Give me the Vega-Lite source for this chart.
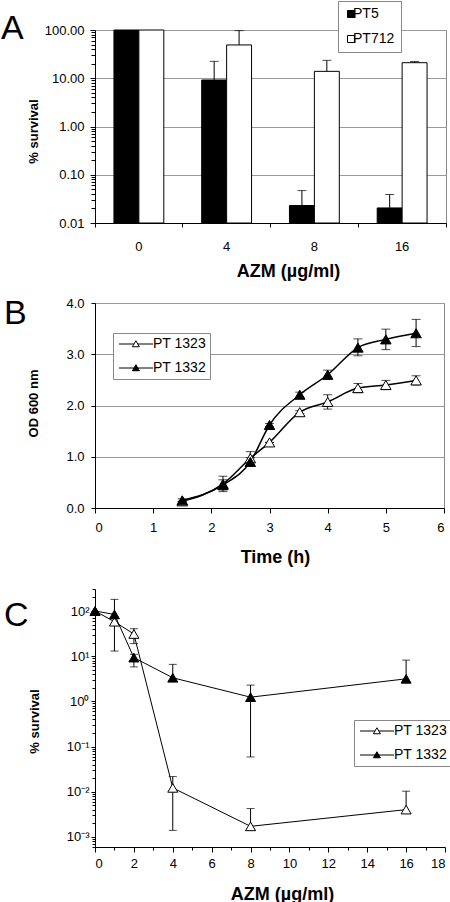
{
  "$schema": "https://vega.github.io/schema/vega-lite/v6.json",
  "background": "white",
  "padding": {"left": 0, "top": 0, "right": 2, "bottom": 0},
  "config": {
    "font": "Liberation Sans",
    "view": {"stroke": null},
    "axis": {"labelFont": "Liberation Sans", "titleFont": "Liberation Sans", "labelFontSize": 13, "labelColor": "black", "titleColor": "black", "domainColor": "black", "tickColor": "black", "gridColor": "#9a9a9a", "grid": false, "titleFontWeight": "bold"},
    "legend": {"labelFont": "Liberation Sans", "labelColor": "black"},
    "title": {"font": "Liberation Sans", "color": "black"}
  },
  "resolve": {"scale": {"fill": "independent"}, "legend": {"fill": "independent"}},
  "spacing": 21,
  "vconcat": [
    {
      "spacing": 15,
      "resolve": {"scale": {"fill": "independent"}, "legend": {"fill": "independent"}},
      "vconcat": [
        {
          "width": 351,
          "height": 193,
          "view": {"stroke": "#888888"},
          "title": {"text": "A", "anchor": "start", "frame": "group", "fontSize": 34, "fontWeight": "normal", "baseline": "alphabetic", "offset": 0, "dx": -94, "dy": 72},
          "data": {"values": [
            {"azm": "0", "strain": "PT5", "survival": 100, "upper": 100},
            {"azm": "0", "strain": "PT712", "survival": 100, "upper": 100},
            {"azm": "4", "strain": "PT5", "survival": 9.2, "upper": 22.4},
            {"azm": "4", "strain": "PT712", "survival": 49, "upper": 97},
            {"azm": "8", "strain": "PT5", "survival": 0.023, "upper": 0.047},
            {"azm": "8", "strain": "PT712", "survival": 13.9, "upper": 23.5},
            {"azm": "16", "strain": "PT5", "survival": 0.0205, "upper": 0.039},
            {"azm": "16", "strain": "PT712", "survival": 21.0, "upper": 22.2}
          ]},
          "resolve": {"axis": {"y": "independent"}},
          "layer": [
            {
              "mark": {"type": "bar", "stroke": "black", "strokeWidth": 1},
              "encoding": {
                "x": {"field": "azm", "type": "ordinal", "sort": ["0", "4", "8", "16"], "scale": {"paddingInner": 0, "paddingOuter": 0},
                  "axis": {"title": "AZM (µg/ml)", "labelAngle": 0, "bandPosition": 1, "tickExtra": true, "tickSize": 4, "labelPadding": 13, "labelBaseline": "top", "titleFontSize": 18, "titleX": 193, "titleY": 53, "titleBaseline": "alphabetic", "titleAlign": "center"}},
                "xOffset": {"field": "strain", "type": "nominal", "sort": ["PT5", "PT712"], "scale": {"paddingInner": 0, "paddingOuter": 0.76}},
                "y": {"field": "survival", "type": "quantitative", "scale": {"type": "log", "domain": [0.01, 100], "nice": false},
                  "axis": {"title": "% survival", "orient": "left", "values": [0.01, 0.1, 1, 10, 100], "format": ".2f", "grid": true, "tickSize": 5, "labelPadding": 6, "titleFontSize": 13, "titleX": -62, "titleY": 101, "titleBaseline": "middle", "titleAlign": "center"}},
                "y2": {"datum": 0.01},
                "fill": {"field": "strain", "type": "nominal", "scale": {"domain": ["PT5", "PT712"], "range": ["black", "white"]},
                  "legend": {"orient": "none", "legendX": 243, "legendY": -29, "title": null, "symbolType": "square", "symbolSize": 49, "symbolStrokeColor": "black", "symbolStrokeWidth": 1, "labelFontSize": 14, "rowPadding": 11, "padding": 6, "strokeColor": "#888888", "fillColor": "white", "labelOffset": -5}}
              }
            },
            {
              "transform": [{"filter": "datum.upper > datum.survival"}],
              "mark": {"type": "rule", "color": "black", "strokeWidth": 1},
              "encoding": {
                "x": {"field": "azm", "type": "ordinal", "sort": ["0", "4", "8", "16"]},
                "xOffset": {"field": "strain", "type": "nominal", "sort": ["PT5", "PT712"]},
                "y": {"field": "survival", "type": "quantitative", "axis": null},
                "y2": {"field": "upper"}
              }
            },
            {
              "transform": [{"filter": "datum.upper > datum.survival"}],
              "mark": {"type": "tick", "color": "black", "thickness": 1, "size": 9, "orient": "horizontal"},
              "encoding": {
                "x": {"field": "azm", "type": "ordinal", "sort": ["0", "4", "8", "16"]},
                "xOffset": {"field": "strain", "type": "nominal", "sort": ["PT5", "PT712"]},
                "y": {"field": "upper", "type": "quantitative",
                  "axis": {"title": null, "orient": "left", "labels": false, "domain": false, "grid": false, "tickSize": 4, "values": [0.02, 0.03, 0.04, 0.05, 0.06, 0.07, 0.08, 0.09, 0.2, 0.3, 0.4, 0.5, 0.6, 0.7, 0.8, 0.9, 2, 3, 4, 5, 6, 7, 8, 9, 20, 30, 40, 50, 60, 70, 80, 90]}}
              }
            }
          ]
        },
        {
          "width": 349,
          "height": 205,
          "view": {"stroke": "#888888"},
          "title": {"text": "B", "anchor": "start", "frame": "group", "fontSize": 34, "fontWeight": "normal", "baseline": "alphabetic", "offset": 0, "dx": -91, "dy": 61},
          "data": {"values": [
            {"t": 1.5, "strain": "PT 1323", "od": 0.13, "lo": 0.13, "hi": 0.13},
            {"t": 2.2, "strain": "PT 1323", "od": 0.47, "lo": 0.32, "hi": 0.62},
            {"t": 2.67, "strain": "PT 1323", "od": 0.97, "lo": 0.84, "hi": 1.1},
            {"t": 3.0, "strain": "PT 1323", "od": 1.28, "lo": 1.28, "hi": 1.28},
            {"t": 3.52, "strain": "PT 1323", "od": 1.87, "lo": 1.84, "hi": 1.9},
            {"t": 4.0, "strain": "PT 1323", "od": 2.07, "lo": 1.93, "hi": 2.21},
            {"t": 4.52, "strain": "PT 1323", "od": 2.34, "lo": 2.25, "hi": 2.43},
            {"t": 5.0, "strain": "PT 1323", "od": 2.4, "lo": 2.31, "hi": 2.49},
            {"t": 5.52, "strain": "PT 1323", "od": 2.49, "lo": 2.4, "hi": 2.58},
            {"t": 1.5, "strain": "PT 1332", "od": 0.15, "lo": 0.12, "hi": 0.18},
            {"t": 2.2, "strain": "PT 1332", "od": 0.45, "lo": 0.35, "hi": 0.55},
            {"t": 2.67, "strain": "PT 1332", "od": 0.9, "lo": 0.82, "hi": 0.98},
            {"t": 3.0, "strain": "PT 1332", "od": 1.62, "lo": 1.59, "hi": 1.65},
            {"t": 3.52, "strain": "PT 1332", "od": 2.21, "lo": 2.16, "hi": 2.26},
            {"t": 4.0, "strain": "PT 1332", "od": 2.6, "lo": 2.51, "hi": 2.69},
            {"t": 4.52, "strain": "PT 1332", "od": 3.13, "lo": 2.97, "hi": 3.3},
            {"t": 5.0, "strain": "PT 1332", "od": 3.29, "lo": 3.09, "hi": 3.49},
            {"t": 5.52, "strain": "PT 1332", "od": 3.41, "lo": 3.15, "hi": 3.68}
          ]},
          "layer": [
            {
              "mark": {"type": "line", "interpolate": "monotone", "color": "black", "strokeWidth": 1.5},
              "encoding": {
                "x": {"field": "t", "type": "quantitative", "scale": {"domain": [0, 6], "nice": false},
                  "axis": {"title": "Time (h)", "values": [0, 1, 2, 3, 4, 5, 6], "format": "d", "tickSize": 5, "labelPadding": 8, "labelBaseline": "top", "titleFontSize": 18, "titleX": 180, "titleY": 54, "titleBaseline": "alphabetic", "titleAlign": "center"}},
                "y": {"field": "od", "type": "quantitative", "scale": {"domain": [0, 4], "nice": false},
                  "axis": {"title": "OD 600 nm", "values": [0, 0.5, 1, 1.5, 2, 2.5, 3, 3.5, 4], "format": ".1f", "grid": true, "tickSize": 4, "labelPadding": 7, "titleFontSize": 13, "titleX": -62, "titleY": 100, "titleBaseline": "middle", "titleAlign": "center"}},
                "detail": {"field": "strain"}
              }
            },
            {
              "mark": {"type": "rule", "color": "black", "strokeWidth": 1},
              "encoding": {
                "x": {"field": "t", "type": "quantitative"},
                "y": {"field": "lo", "type": "quantitative"},
                "y2": {"field": "hi"}
              }
            },
            {
              "mark": {"type": "tick", "color": "black", "thickness": 1, "size": 9, "orient": "horizontal"},
              "encoding": {
                "x": {"field": "t", "type": "quantitative"},
                "y": {"field": "lo", "type": "quantitative"}
              }
            },
            {
              "mark": {"type": "tick", "color": "black", "thickness": 1, "size": 9, "orient": "horizontal"},
              "encoding": {
                "x": {"field": "t", "type": "quantitative"},
                "y": {"field": "hi", "type": "quantitative"}
              }
            },
            {
              "mark": {"type": "point", "shape": "triangle-up", "filled": true, "stroke": "black", "strokeWidth": 1, "size": 110, "opacity": 1},
              "encoding": {
                "x": {"field": "t", "type": "quantitative"},
                "y": {"field": "od", "type": "quantitative"},
                "fill": {"field": "strain", "type": "nominal", "scale": {"domain": ["PT 1323", "PT 1332"], "range": ["white", "black"]},
                  "legend": {"orient": "none", "legendX": 18, "legendY": 30, "title": null, "symbolType": "M-1,0H1.98M2.78,0H5.8M2.38,-0.65L3.08,0.55L1.68,0.55Z", "symbolSize": 100, "symbolStrokeColor": "black", "symbolStrokeWidth": 1, "labelFontSize": 14, "rowPadding": 10, "padding": 4, "strokeColor": "#888888", "fillColor": "white", "labelOffset": 22}}
              }
            }
          ]
        }
      ]
    },
    {
      "width": 350,
      "height": 258,
      "title": {"text": "C", "anchor": "start", "frame": "group", "fontSize": 34, "fontWeight": "normal", "baseline": "alphabetic", "offset": 0, "dx": -91, "dy": 71},
      "data": {"values": [
        {"azm": 0, "strain": "PT 1323", "survival": 100, "lo": 100, "hi": 100},
        {"azm": 1, "strain": "PT 1323", "survival": 58, "lo": 13, "hi": 58},
        {"azm": 2, "strain": "PT 1323", "survival": 31, "lo": 19, "hi": 40.6},
        {"azm": 4, "strain": "PT 1323", "survival": 0.0122, "lo": 0.0014, "hi": 0.0217},
        {"azm": 8, "strain": "PT 1323", "survival": 0.00172, "lo": 0.00172, "hi": 0.00425},
        {"azm": 16, "strain": "PT 1323", "survival": 0.00403, "lo": 0.00403, "hi": 0.0103},
        {"azm": 0, "strain": "PT 1332", "survival": 100, "lo": 100, "hi": 100},
        {"azm": 1, "strain": "PT 1332", "survival": 84, "lo": 84, "hi": 181},
        {"azm": 2, "strain": "PT 1332", "survival": 9.3, "lo": 5.8, "hi": 11},
        {"azm": 4, "strain": "PT 1332", "survival": 3.33, "lo": 3.33, "hi": 6.6},
        {"azm": 8, "strain": "PT 1332", "survival": 1.24, "lo": 0.059, "hi": 2.29},
        {"azm": 16, "strain": "PT 1332", "survival": 3.16, "lo": 3.16, "hi": 8.2}
      ]},
      "resolve": {"axis": {"x": "independent", "y": "independent"}},
      "layer": [
        {
          "mark": {"type": "line", "color": "black", "strokeWidth": 1},
          "encoding": {
            "x": {"field": "azm", "type": "quantitative", "scale": {"domain": [0, 18], "nice": false},
              "axis": {"title": "AZM (µg/ml)", "orient": "bottom", "values": [0, 2, 4, 6, 8, 10, 12, 14, 16, 18], "format": "d", "tickSize": 5, "labelPadding": 5, "labelBaseline": "top", "titleFontSize": 18, "titleX": 187, "titleY": 52, "titleBaseline": "alphabetic", "titleAlign": "center"}},
            "y": {"field": "survival", "type": "quantitative", "scale": {"type": "log", "domain": [0.0006, 307], "nice": false},
              "axis": {"title": "% survival", "orient": "left", "values": [0.001, 0.01, 0.1, 1, 10, 100], "labelExpr": "datum.value > 50 ? '10²' : datum.value > 5 ? '10¹' : datum.value > 0.5 ? '10⁰' : datum.value > 0.05 ? '10⁻¹' : datum.value > 0.005 ? '10⁻²' : '10⁻³'", "tickSize": 4, "labelPadding": 2, "titleFontSize": 13, "titleX": -61, "titleY": 132, "titleBaseline": "middle", "titleAlign": "center"}},
            "detail": {"field": "strain"}
          }
        },
        {
          "transform": [{"filter": "datum.hi > datum.lo"}],
          "mark": {"type": "rule", "color": "black", "strokeWidth": 1},
          "encoding": {
            "x": {"field": "azm", "type": "quantitative", "axis": null},
            "y": {"field": "lo", "type": "quantitative", "axis": null},
            "y2": {"field": "hi"}
          }
        },
        {
          "transform": [{"filter": "datum.lo < datum.survival"}],
          "mark": {"type": "tick", "color": "black", "thickness": 1, "size": 8, "orient": "horizontal"},
          "encoding": {
            "x": {"field": "azm", "type": "quantitative",
              "axis": {"title": null, "orient": "bottom", "labels": false, "domain": false, "tickSize": 3, "values": [1, 3, 5, 7, 9, 11, 13, 15, 17]}},
            "y": {"field": "lo", "type": "quantitative",
              "axis": {"title": null, "orient": "left", "labels": false, "domain": false, "tickSize": 3, "values": [0.0006, 0.0007, 0.0008, 0.0009, 0.002, 0.003, 0.004, 0.005, 0.006, 0.007, 0.008, 0.009, 0.02, 0.03, 0.04, 0.05, 0.06, 0.07, 0.08, 0.09, 0.2, 0.3, 0.4, 0.5, 0.6, 0.7, 0.8, 0.9, 2, 3, 4, 5, 6, 7, 8, 9, 20, 30, 40, 50, 60, 70, 80, 90, 200, 300]}}
          }
        },
        {
          "transform": [{"filter": "datum.hi > datum.survival"}],
          "mark": {"type": "tick", "color": "black", "thickness": 1, "size": 8, "orient": "horizontal"},
          "encoding": {
            "x": {"field": "azm", "type": "quantitative", "axis": null},
            "y": {"field": "hi", "type": "quantitative", "axis": null}
          }
        },
        {
          "mark": {"type": "point", "shape": "triangle-up", "filled": true, "stroke": "black", "strokeWidth": 1, "size": 100, "opacity": 1},
          "encoding": {
            "x": {"field": "azm", "type": "quantitative", "axis": null},
            "y": {"field": "survival", "type": "quantitative", "axis": null},
            "fill": {"field": "strain", "type": "nominal", "scale": {"domain": ["PT 1323", "PT 1332"], "range": ["white", "black"]},
              "legend": {"orient": "none", "legendX": 259, "legendY": 131, "title": null, "symbolType": "M-1,0H1.98M2.78,0H5.8M2.38,-0.65L3.08,0.55L1.68,0.55Z", "symbolSize": 100, "symbolStrokeColor": "black", "symbolStrokeWidth": 1, "labelFontSize": 14, "rowPadding": 10, "padding": 4, "strokeColor": "#888888", "fillColor": "white", "labelOffset": 22}}
          }
        }
      ]
    }
  ]
}
